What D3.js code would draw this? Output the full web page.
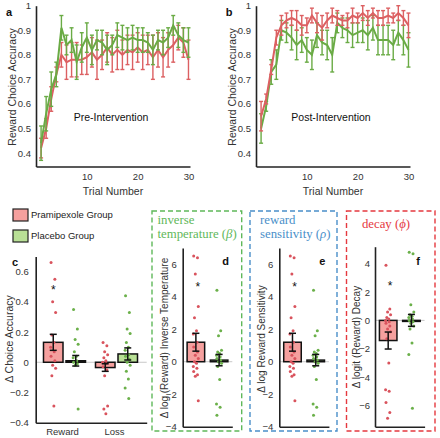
<!DOCTYPE html>
<html><head><meta charset="utf-8">
<script src="https://cdn.jsdelivr.net/npm/d3@7"></script>
<style>
body{margin:0;background:#fff}
svg{display:block}
text{font-family:"Liberation Sans",Arial,sans-serif}
</style>
</head><body>
<svg id="chart" width="440" height="438"></svg>
<script>
// ---------- DATA ----------
const trials = [1,2,3,4,5,6,7,8,9,10,11,12,13,14,15,16,17,18,19,20,21,22,23,24,25,26,27,28,29,30];
const preRedMean   = [0.42,0.50,0.62,0.72,0.80,0.77,0.78,0.78,0.78,0.79,0.81,0.78,0.80,0.83,0.80,0.82,0.80,0.82,0.81,0.83,0.81,0.82,0.79,0.82,0.79,0.82,0.84,0.87,0.85,0.78];
const preRedErr    = [0.04,0.04,0.05,0.03,0.05,0.07,0.07,0.07,0.06,0.07,0.06,0.08,0.06,0.06,0.07,0.08,0.06,0.06,0.07,0.06,0.07,0.06,0.09,0.07,0.08,0.07,0.07,0.05,0.06,0.08];
const preGreenMean = [0.44,0.56,0.66,0.72,0.91,0.84,0.86,0.77,0.83,0.87,0.82,0.86,0.85,0.82,0.84,0.88,0.87,0.86,0.87,0.86,0.86,0.85,0.82,0.86,0.85,0.87,0.92,0.88,0.86,0.85];
const preGreenErr  = [0.07,0.07,0.07,0.05,0.05,0.04,0.05,0.07,0.06,0.06,0.06,0.04,0.05,0.06,0.04,0.05,0.05,0.05,0.05,0.05,0.05,0.04,0.06,0.04,0.05,0.04,0.04,0.05,0.05,0.06];
const postRedMean   = [0.55,0.62,0.74,0.87,0.92,0.94,0.95,0.94,0.92,0.92,0.96,0.93,0.91,0.94,0.96,0.95,0.94,0.94,0.96,0.95,0.97,0.95,0.97,0.95,0.95,0.96,0.95,0.97,0.95,0.92];
const postRedErr    = [0.06,0.02,0.02,0.03,0.04,0.03,0.03,0.04,0.04,0.03,0.03,0.04,0.05,0.03,0.03,0.03,0.02,0.03,0.03,0.02,0.03,0.03,0.02,0.03,0.03,0.03,0.02,0.03,0.03,0.05];
const postGreenMean = [0.50,0.59,0.73,0.76,0.90,0.89,0.87,0.84,0.86,0.82,0.80,0.88,0.85,0.84,0.80,0.93,0.91,0.90,0.88,0.89,0.90,0.88,0.91,0.86,0.86,0.86,0.84,0.89,0.86,0.82];
const postGreenErr  = [0.06,0.02,0.05,0.06,0.04,0.04,0.05,0.06,0.05,0.05,0.06,0.05,0.05,0.06,0.07,0.04,0.04,0.05,0.05,0.04,0.05,0.06,0.05,0.06,0.06,0.06,0.06,0.05,0.06,0.07];
const lineYTicks = [0.4,0.5,0.6,0.7,0.8,0.9,1];
const lineXTicks = [10,20,30];

const groupNames = ["Pramipexole Group","Placebo Group"];
const accCategories = ["Reward","Loss"];
const accMeanPram = [0.132,-0.035];
const accErrPram  = [0.053,0.025];
const accMeanPlac = [0.010,0.055];
const accErrPlac  = [0.035,0.040];
const accRewardPram = [0.66,0.55,0.40,0.33,0.18,0.13,0.10,0.07,0.04,0.01,-0.02,-0.04,-0.09,-0.29];
const accRewardPlac = [0.35,0.22,0.15,0.12,0.07,0.04,0.03,0.01,0.00,-0.01,-0.02,-0.31];
const accLossPram   = [0.13,0.11,0.07,0.05,0.03,0.01,0.00,-0.01,-0.03,-0.05,-0.09,-0.29,-0.31,-0.34];
const accLossPlac   = [0.44,0.33,0.22,0.19,0.13,0.10,0.08,0.05,0.04,0.02,0.00,-0.02,-0.06,-0.11,-0.17,-0.24];
const accStar = 0.48;
const accTicks = [-0.4,-0.2,0,0.2,0.4,0.6];

const betaMean = [1.2,0.1];
const betaErr  = [0.55,0.35];
const betaPram = [6.5,6.4,5.4,3.4,2.7,1.9,1.7,1.2,0.9,0.6,0.4,0.2,0.0,-0.1,-0.3,-0.4,-0.6,-0.8,-0.9,-2.4];
const betaPlac = [4.4,1.9,1.6,0.7,0.6,0.5,0.4,0.3,0.2,0.1,0.0,-0.1,-0.3,-1.1,-2.6,-2.8,-3.3];
const betaStar = 4.6;
const rhoMean = [1.2,0.1];
const rhoErr  = [0.55,0.35];
const rhoPram = [6.5,6.4,5.4,3.4,2.7,1.9,1.7,1.2,0.9,0.6,0.4,0.2,0.0,-0.1,-0.3,-0.4,-0.6,-0.8,-0.9,-2.4];
const rhoPlac = [4.4,1.9,1.6,0.7,0.6,0.5,0.4,0.3,0.2,0.1,0.0,-0.1,-0.3,-1.1,-2.6,-2.8,-3.3];
const rhoStar = 4.6;
const paramTicks = [-4,-2,0,2,4,6];

const phiMean = [-1.42,0.0];
const phiErr  = [0.6,0.42];
const phiPram = [3.9,0.8,0.6,0.4,0.2,0.1,0.0,-0.1,-0.2,-0.4,-0.6,-0.8,-1.3,-3.0,-4.9,-5.0,-5.8,-6.5,-6.9];
const phiPlac = [4.8,4.7,1.1,0.6,0.4,0.3,0.2,0.1,0.0,-0.1,-0.2,-0.4,-0.6,-1.6,-2.4,-6.2];
const phiStar = 2.45;
const phiTicks = [-6,-4,-2,0,2,4];

// ---------- STYLE ----------
const C = {
  redLine:"#dc6062", greenLine:"#6aab45",
  redFill:"#f5a09e", greenFill:"#b9e096",
  redDot:"#d9535d", greenDot:"#6bb04a",
  axis:"#222", tick:"#333",
  boxGreen:"#5fb85a", boxBlue:"#4a8fc9", boxRed:"#e5393f"
};
const svg = d3.select("#chart");
const jit = [-2.2,1.6,-0.6,2.4,-1.4,0.6,-2.6,1.0];

function styleAxis(g){
  g.select(".domain").attr("stroke",C.axis).attr("stroke-width",1.6);
  g.selectAll(".tick text").attr("fill",C.tick).attr("font-size",9.5);
  g.selectAll(".tick line").remove();
}

// ---------- LINE PANELS ----------
function linePanel(ox, series, title, letter){
  const x = d3.scaleLinear().domain([0,30.3]).range([ox+36, ox+190]);
  const y = d3.scaleLinear().domain([0.345,1]).range([166.5,5.7]);
  const g = svg.append("g");
  g.append("g").attr("transform","translate(0,166.5)")
    .call(d3.axisBottom(x).tickValues(lineXTicks).tickSize(0).tickPadding(7).tickSizeOuter(0))
    .call(styleAxis);
  g.append("g").attr("transform",`translate(${ox+36},0)`)
    .call(d3.axisLeft(y).tickValues(lineYTicks).tickFormat(d=>d===1?"1":d3.format(".1f")(d)).tickSize(0).tickPadding(5).tickSizeOuter(0))
    .call(styleAxis);
  series.forEach(s=>{
    const pts = trials.map((t,i)=>({t, m:s.mean[i], e:s.err[i]}));
    const eg = g.append("g").attr("stroke",s.color).attr("stroke-width",1.4).attr("fill","none");
    pts.forEach(p=>{
      const xx = x(p.t);
      eg.append("line").attr("x1",xx).attr("x2",xx).attr("y1",y(p.m-p.e)).attr("y2",y(p.m+p.e));
      eg.append("line").attr("x1",xx-2).attr("x2",xx+2).attr("y1",y(p.m-p.e)).attr("y2",y(p.m-p.e));
      eg.append("line").attr("x1",xx-2).attr("x2",xx+2).attr("y1",y(p.m+p.e)).attr("y2",y(p.m+p.e));
    });
    g.append("path").datum(pts)
      .attr("d", d3.line().x(p=>x(p.t)).y(p=>y(p.m)))
      .attr("fill","none").attr("stroke",s.color).attr("stroke-width",2);
  });
  g.append("text").attr("x",ox+113).attr("y",191).attr("dy","0.35em").attr("text-anchor","middle")
    .attr("font-size",10.5).attr("fill","#333").text("Trial Number");
  g.append("text").attr("transform",`translate(${ox+12},87) rotate(-90)`).attr("dy","0.35em").attr("text-anchor","middle")
    .attr("font-size",10.5).attr("fill","#333").text("Reward Choice Accuracy");
  g.append("text").attr("x",ox+111).attr("y",117).attr("dy","0.35em").attr("text-anchor","middle")
    .attr("font-size",10.5).attr("fill","#111").text(title);
  g.append("text").attr("x",ox+9).attr("y",12).attr("dy","0.35em").attr("text-anchor","middle")
    .attr("font-size",11).attr("font-weight","bold").attr("fill","#111").text(letter);
}
linePanel(0,[
  {mean:preRedMean, err:preRedErr, color:C.redLine},
  {mean:preGreenMean, err:preGreenErr, color:C.greenLine}
],"Pre-Intervention","a");
linePanel(220,[
  {mean:postGreenMean, err:postGreenErr, color:C.greenLine},
  {mean:postRedMean, err:postRedErr, color:C.redLine}
],"Post-Intervention","b");

// ---------- LEGEND ----------
[[C.redFill,groupNames[0],209],[C.greenFill,groupNames[1],230]].forEach(([f,t,yy])=>{
  svg.append("rect").attr("x",13).attr("y",yy).attr("width",15).attr("height",12)
    .attr("fill",f).attr("stroke","#222").attr("stroke-width",1.2);
  svg.append("text").attr("x",31).attr("y",yy+6).attr("dy","0.35em").attr("font-size",9.5).attr("fill","#222").text(t);
});

// ---------- BAR PANEL HELPER ----------
function drawBars(g, y, items){
  items.forEach(it=>{
    const y0 = y(0), ym = y(it.mean);
    g.append("rect").attr("x",it.cx-it.w/2).attr("width",it.w)
      .attr("y",Math.min(y0,ym)).attr("height",Math.max(1,Math.abs(ym-y0)))
      .attr("fill",it.fill).attr("stroke","#111").attr("stroke-width",1.5);
  });
  items.forEach(it=>{
    it.dots.forEach((v,i)=>{
      g.append("circle").attr("cx",it.cx+jit[i%jit.length]).attr("cy",y(v)).attr("r",1.5).attr("fill",it.dotColor);
    });
  });
  items.forEach(it=>{
    const e = g.append("g").attr("stroke","#111").attr("stroke-width",1.5);
    e.append("line").attr("x1",it.cx).attr("x2",it.cx).attr("y1",y(it.mean-it.err)).attr("y2",y(it.mean+it.err));
    [it.mean-it.err,it.mean+it.err].forEach(v=>
      e.append("line").attr("x1",it.cx-3.5).attr("x2",it.cx+3.5).attr("y1",y(v)).attr("y2",y(v)));
  });
}
function zeroLine(g,y,x0,x1){
  g.append("line").attr("x1",x0).attr("x2",x1).attr("y1",y(0)).attr("y2",y(0))
    .attr("stroke","#c8c8c8").attr("stroke-width",1);
}

// ---------- PANEL C ----------
{
  const g = svg.append("g");
  const y = d3.scaleLinear().domain([-0.4,0.7]).range([422.7,256.5]);
  const x = d3.scaleBand().domain(accCategories).range([38.5,142.5]).padding(0);
  const xi = d3.scaleBand().domain(groupNames).range([0,x.bandwidth()]).paddingInner(0.133).paddingOuter(0.222);
  zeroLine(g,y,35.7,146.7);
  const items = [];
  accCategories.forEach((c,ci)=>{
    items.push({cx:x(c)+xi(groupNames[0])+xi.bandwidth()/2, w:xi.bandwidth(), mean:accMeanPram[ci], err:accErrPram[ci],
      fill:C.redFill, dots: ci===0?accRewardPram:accLossPram, dotColor:C.redDot});
    items.push({cx:x(c)+xi(groupNames[1])+xi.bandwidth()/2, w:xi.bandwidth(), mean:accMeanPlac[ci], err:accErrPlac[ci],
      fill:C.greenFill, dots: ci===0?accRewardPlac:accLossPlac, dotColor:C.greenDot});
  });
  drawBars(g,y,items);
  g.append("g").attr("transform","translate(0,422.7)")
    .call(d3.axisBottom(d3.scaleLinear().domain([0,1]).range([35.7,146.7])).tickValues([]).tickSizeOuter(0))
    .call(styleAxis);
  accCategories.forEach(c=>{
    g.append("text").attr("x",x(c)+x.bandwidth()/2-2).attr("y",431.5).attr("dy","0.35em").attr("text-anchor","middle")
      .attr("font-size",9.5).attr("fill","#333").text(c);
  });
  g.append("g").attr("transform","translate(35.7,0)")
    .call(d3.axisLeft(y).tickValues(accTicks).tickFormat(d=>d===0?"0":d3.format(".1f")(d)).tickSize(0).tickPadding(7).tickSizeOuter(0))
    .call(styleAxis);
  g.append("text").attr("x",items[0].cx).attr("y",y(accStar)+4).attr("text-anchor","middle").attr("font-size",12).attr("fill","#111").text("*");
  g.append("text").attr("transform","translate(9,339) rotate(-90)").attr("dy","0.35em").attr("text-anchor","middle")
    .attr("font-size",10.5).attr("fill","#333").text("\u0394 Choice Accuracy");
  g.append("text").attr("x",15).attr("y",262).attr("dy","0.35em").attr("text-anchor","middle")
    .attr("font-size",11).attr("font-weight","bold").attr("fill","#111").text("c");
}

// ---------- PANELS D, E, F ----------
function paramPanel(cfg){
  const g = svg.append("g");
  g.append("rect").attr("x",cfg.box[0]).attr("y",211).attr("width",cfg.box[1]-cfg.box[0]).attr("height",220)
    .attr("fill","none").attr("stroke",cfg.boxColor).attr("stroke-width",1.4).attr("stroke-dasharray","5,3");
  cfg.title.forEach(([parts,xx,yy,anchor])=>{
    const t = g.append("text").attr("x",xx).attr("y",yy).attr("text-anchor",anchor)
      .attr("font-family","'Liberation Serif','Times New Roman',serif").attr("font-size",12.8).attr("fill",cfg.boxColor);
    parts.forEach(([s,it])=>t.append("tspan").attr("font-style",it?"italic":"normal")
      .attr("font-family","'Liberation Serif','Times New Roman',serif").text(s));
  });
  const y = d3.scaleLinear().domain(cfg.domain).range([426.7,cfg.top]);
  const x = d3.scaleBand().domain(groupNames).range([cfg.ax, cfg.ax+49.6]).paddingInner(0.245).paddingOuter(0.19);
  zeroLine(g,y,cfg.ax,cfg.ax+49.6);
  drawBars(g,y,[
    {cx:x(groupNames[0])+x.bandwidth()/2, w:x.bandwidth(), mean:cfg.mean[0], err:cfg.err[0], fill:C.redFill, dots:cfg.pram, dotColor:C.redDot},
    {cx:x(groupNames[1])+x.bandwidth()/2, w:x.bandwidth(), mean:cfg.mean[1], err:cfg.err[1], fill:C.greenFill, dots:cfg.plac, dotColor:C.greenDot}
  ]);
  g.append("g").attr("transform","translate(0,426.7)")
    .call(d3.axisBottom(d3.scaleLinear().domain([0,1]).range([cfg.ax,cfg.ax+49.6])).tickValues([]).tickSizeOuter(0))
    .call(styleAxis);
  g.append("g").attr("transform",`translate(${cfg.ax},0)`)
    .call(d3.axisLeft(y).tickValues(cfg.ticks).tickSize(0).tickPadding(cfg.pad).tickSizeOuter(0))
    .call(styleAxis);
  g.append("text").attr("x",x(groupNames[0])+x.bandwidth()/2+2).attr("y",y(cfg.star)+4).attr("text-anchor","middle")
    .attr("font-size",12).attr("fill","#111").text("*");
  g.append("text").attr("transform",`translate(${cfg.labelX},${cfg.labelY}) rotate(-90)`).attr("dy","0.35em").attr("text-anchor","middle")
    .attr("font-size",10).attr("fill","#333").text(cfg.label);
  g.append("text").attr("x",cfg.ax+43).attr("y",261).attr("dy","0.35em").attr("text-anchor","middle")
    .attr("font-size",11).attr("font-weight","bold").attr("fill","#111").text(cfg.letter);
}
paramPanel({box:[152,241.7], boxColor:C.boxGreen,
  title:[[[["inverse",false]],157.5,224,"start"],[[["temperature (",false],["\u03B2",true],[")",false]],157.5,237.5,"start"]],
  domain:[-4,7], top:248, ax:182.7, pad:6, mean:betaMean, err:betaErr, pram:betaPram, plac:betaPlac, star:betaStar,
  ticks:paramTicks, label:"\u0394 log (Reward) Inverse Temperature", labelX:164, labelY:338, letter:"d"});
paramPanel({box:[250,337], boxColor:C.boxBlue,
  title:[[[["reward",false]],260,224,"start"],[[["sensitivity (",false],["\u03C1",true],[")",false]],260,237.5,"start"]],
  domain:[-4,7], top:248, ax:279.3, pad:6, mean:rhoMean, err:rhoErr, pram:rhoPram, plac:rhoPlac, star:rhoStar,
  ticks:paramTicks, label:"\u0394 log Reward Sensitivity", labelX:261, labelY:339, letter:"e"});
paramPanel({box:[346.5,435], boxColor:C.boxRed,
  title:[[[["decay (",false],["\u03D5",true],[")",false]],386,228,"middle"]],
  domain:[-7.5,5.2], top:246.7, ax:375, pad:5, mean:phiMean, err:phiErr, pram:phiPram, plac:phiPlac, star:phiStar,
  ticks:phiTicks, label:"\u0394 logit (Reward) Decay", labelX:356, labelY:337, letter:"f"});
</script>
</body></html>
